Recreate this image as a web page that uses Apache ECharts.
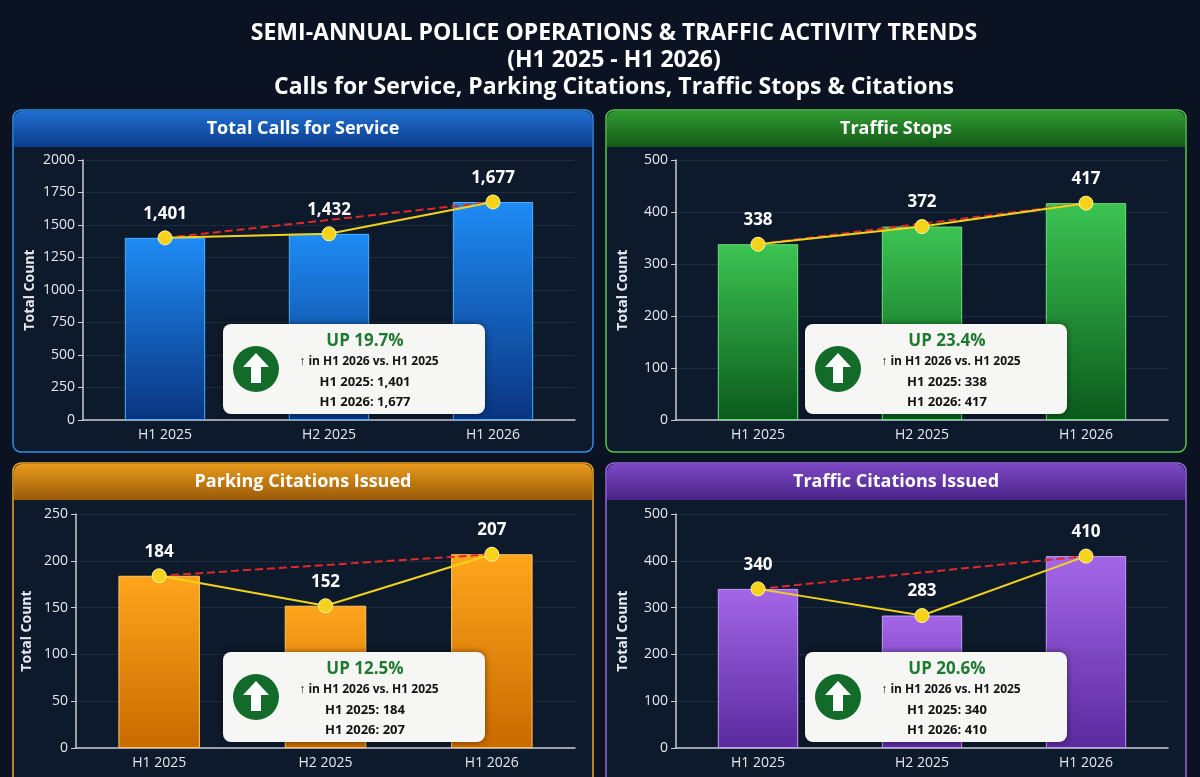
<!DOCTYPE html>
<html>
<head>
<meta charset="utf-8">
<script src="https://cdn.jsdelivr.net/npm/echarts@6/dist/echarts.min.js"></script>
<style>html,body{margin:0;padding:0;background:#0b1322;}#main{width:1200px;height:777px;}</style>
</head>
<body>
<div id="main"></div>
<script>
var categories = ['H1 2025', 'H2 2025', 'H1 2026'];
var callsForService = [1401, 1432, 1677];
var trafficStops = [338, 372, 417];
var parkingCitations = [184, 152, 207];
var trafficCitations = [340, 283, 410];
var panelTitles = ['Total Calls for Service', 'Traffic Stops', 'Parking Citations Issued', 'Traffic Citations Issued'];
var changeLabels = ['UP 19.7%', 'UP 23.4%', 'UP 12.5%', 'UP 20.6%'];
var axisMax = [2000, 500, 250, 500];
var axisStep = [250, 100, 50, 100];

var allData = [callsForService, trafficStops, parkingCitations, trafficCitations];
var panels = [
    { x: 13, y: 110, w: 580, h: 342, border: '#2f8fe8', head: ['#1f6fd0', '#0c3c8c'], bar: ['#1e8cf5', '#0a3480'], barBorder: '#4ab0ff' },
    { x: 606, y: 110, w: 580, h: 342, border: '#55c848', head: ['#2f9a30', '#145a18'], bar: ['#3cc452', '#0b5a1c'], barBorder: '#6ee07a' },
    { x: 13, y: 463, w: 580, h: 330, border: '#f0a524', head: ['#e89a1c', '#9a5a08'], bar: ['#ffa51c', '#c86a00'], barBorder: '#ffc560' },
    { x: 606, y: 463, w: 580, h: 330, border: '#9a66dc', head: ['#7c48c4', '#4a2488'], bar: ['#a466e8', '#5a2a9e'], barBorder: '#c49af5' }
];
var grids = [
    { left: 83, top: 160, width: 492, height: 260 },
    { left: 676, top: 160, width: 492, height: 260 },
    { left: 76, top: 514, width: 499, height: 234 },
    { left: 676, top: 514, width: 492, height: 234 }
];
var boxes = [[223, 324], [805, 324], [223, 652], [805, 652]];

function fmt(v) { return v.toLocaleString('en-US'); }
function grad(c) {
    return new echarts.graphic.LinearGradient(0, 0, 0, 1, [{ offset: 0, color: c[0] }, { offset: 1, color: c[1] }]);
}

var graphic = [{
    type: 'text', x: 614, y: 20, z: 10,
    style: { text: 'SEMI-ANNUAL POLICE OPERATIONS & TRAFFIC ACTIVITY TRENDS\n(H1 2025 - H1 2026)\nCalls for Service, Parking Citations, Traffic Stops & Citations',
        fill: '#ffffff', font: 'bold 23px "Open Sans", sans-serif', align: 'center', lineHeight: 27 }
}];
var xAxis = [], yAxis = [], series = [];

panels.forEach(function (p, i) {
    graphic.push({ type: 'rect', z: 0, shape: { x: p.x, y: p.y, width: p.w, height: p.h, r: 8 },
        style: { fill: '#0d1a2c', stroke: p.border, lineWidth: 1.5 } });
    graphic.push({ type: 'rect', z: 1, shape: { x: p.x + 1, y: p.y + 1, width: p.w - 2, height: 36, r: [8, 8, 0, 0] },
        style: { fill: grad(p.head) } });
    graphic.push({ type: 'text', z: 2, x: p.x + p.w / 2, y: p.y + 19,
        style: { text: panelTitles[i], fill: '#fff', font: 'bold 18px "Open Sans", sans-serif', align: 'center', verticalAlign: 'middle' } });
    var b = boxes[i], d = allData[i];
    graphic.push({ type: 'group', x: b[0], y: b[1], children: [
        { type: 'rect', zlevel: 1, shape: { x: 0, y: 0, width: 262, height: 90, r: 8 }, style: { fill: '#f6f6f4', shadowBlur: 6, shadowColor: 'rgba(0,0,0,0.5)' } },
        { type: 'circle', zlevel: 1, shape: { cx: 33, cy: 45, r: 23 }, style: { fill: '#136b2a' } },
        { type: 'polygon', zlevel: 1, shape: { points: [[33, 29], [46, 43], [38, 43], [38, 59], [28, 59], [28, 43], [20, 43]] }, style: { fill: '#fff' } },
        { type: 'text', zlevel: 1, x: 142, y: 17, style: { text: changeLabels[i], fill: '#1f7a30', font: 'bold 17px "Open Sans", sans-serif', align: 'center', verticalAlign: 'middle' } },
        { type: 'text', zlevel: 1, x: 146, y: 38, style: { text: '\u2191 in H1 2026 vs. H1 2025', fill: '#111', font: 'bold 12px "Open Sans", sans-serif', align: 'center', verticalAlign: 'middle' } },
        { type: 'text', zlevel: 1, x: 142, y: 58, style: { text: 'H1 2025: ' + fmt(d[0]), fill: '#111', font: 'bold 13px "Open Sans", sans-serif', align: 'center', verticalAlign: 'middle' } },
        { type: 'text', zlevel: 1, x: 142, y: 78, style: { text: 'H1 2026: ' + fmt(d[2]), fill: '#111', font: 'bold 13px "Open Sans", sans-serif', align: 'center', verticalAlign: 'middle' } }
    ] });

    xAxis.push({ type: 'category', gridIndex: i, data: categories,
        axisLine: { lineStyle: { color: '#c8ccd4', width: 1.5 } },
        axisTick: { alignWithLabel: true, lineStyle: { color: '#c8ccd4' } },
        axisLabel: { color: '#e6e8ee', fontSize: 14, fontFamily: 'Open Sans', margin: 8 } });
    yAxis.push({ type: 'value', gridIndex: i, min: 0, max: axisMax[i], interval: axisStep[i],
        name: 'Total Count', nameLocation: 'middle', nameGap: i === 2 ? 42 : 46,
        nameTextStyle: { color: '#e6e8ee', fontSize: 14, fontWeight: 'bold', fontFamily: 'Open Sans' },
        axisLine: { show: true, lineStyle: { color: '#c8ccd4', width: 1.5 } },
        axisTick: { show: true, lineStyle: { color: '#c8ccd4' } },
        axisLabel: { color: '#e6e8ee', fontSize: 14, fontFamily: 'Open Sans', formatter: function (v) { return String(v); } },
        splitLine: { lineStyle: { color: 'rgba(150,160,180,0.25)', type: 'dotted' } } });
    series.push({ type: 'bar', xAxisIndex: i, yAxisIndex: i, data: d, barWidth: '49%',
        itemStyle: { color: grad(p.bar), borderColor: p.barBorder, borderWidth: 1 }, z: 2 });
    series.push({ type: 'line', xAxisIndex: i, yAxisIndex: i, data: [d[0], null, d[2]], connectNulls: true,
        symbol: 'none', lineStyle: { color: '#e02828', type: 'dashed', width: 2 }, z: 3, silent: true });
    series.push({ type: 'line', xAxisIndex: i, yAxisIndex: i, data: d, symbol: 'circle', symbolSize: 14,
        lineStyle: { color: '#f2d31c', width: 2 }, itemStyle: { color: '#f6d21a', borderColor: '#fff5a0', borderWidth: 1 }, z: 4,
        label: { show: true, position: 'top', distance: 8, formatter: function (q) { return fmt(q.value); },
            color: '#fff', fontSize: 17, fontWeight: 'bold', fontFamily: 'Open Sans' } });
});

var chart = echarts.init(document.getElementById('main'));
chart.setOption({
    backgroundColor: '#0b1322',
    animation: false,
    graphic: graphic,
    grid: grids,
    xAxis: xAxis,
    yAxis: yAxis,
    series: series
});
</script>
</body>
</html>
